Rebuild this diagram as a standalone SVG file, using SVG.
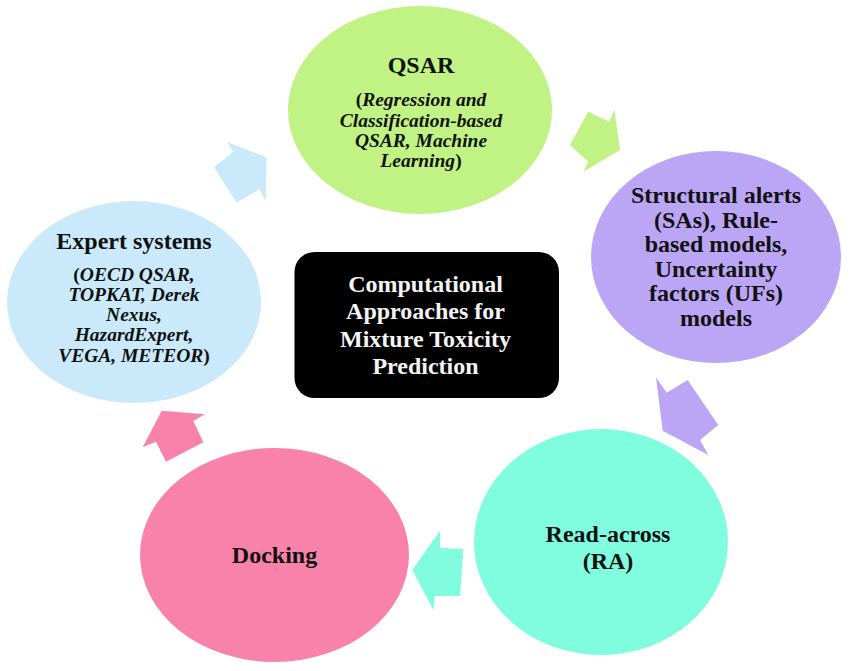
<svg xmlns="http://www.w3.org/2000/svg" width="850" height="671" viewBox="0 0 850 671">
<style>
text{font-family:"Liberation Serif","Times New Roman",serif;font-weight:bold;text-anchor:middle;fill:#111}
.t{font-size:24px}
.s{font-size:19.5px}
.i{font-style:italic}
.w{fill:#f4f4f4}
</style>
<rect x="0" y="0" width="850" height="671" fill="#ffffff"/>
<g id="connectors">
<polygon points="226.7,141.7 233.3,151.7 214,167.3 236.7,202.7 259.3,189.3 265.7,201 266.7,157.3" fill="#caeafb"/>
<polygon points="588.3,111.7 609.3,121.7 614.3,109.3 620,150 583.3,171.7 588.3,161.7 570,145" fill="#c0f284"/>
<polygon points="656,377.3 666.7,392.7 687.7,380 718.3,425 700,440 708.3,455 662.7,430.7" fill="#bba6f5"/>
<polygon points="440,530.7 440,547.7 463.3,549.3 460,596 435,596 433.3,610 412.3,570" fill="#80fcde"/>
<polygon points="161.7,410.7 205,414.3 193.3,421 203.3,442.3 166,461.7 156,441.7 142.7,447.3" fill="#f882aa"/>
</g>
<g id="qsar">
<ellipse cx="420" cy="110" rx="132" ry="104" fill="#c0f284"/>
<text class="t" x="421" y="73">QSAR</text>
<text class="s" x="421" y="106">(<tspan class="i">Regression and</tspan></text>
<text class="s i" x="421" y="126.5">Classification-based</text>
<text class="s i" x="421" y="146.5">QSAR, Machine</text>
<text class="s" x="421" y="166.5"><tspan class="i">Learning</tspan>)</text>
</g>
<g id="structural-alerts">
<ellipse cx="716" cy="257" rx="125" ry="106" fill="#bba6f5"/>
<text class="t" x="716" y="203">Structural alerts</text>
<text class="t" x="716" y="227.5">(SAs), Rule-</text>
<text class="t" x="716" y="252">based models,</text>
<text class="t" x="716" y="276.5">Uncertainty</text>
<text class="t" x="716" y="301">factors (UFs)</text>
<text class="t" x="716" y="325.5">models</text>
</g>
<g id="read-across">
<ellipse cx="601" cy="542" rx="127" ry="113" fill="#80fcde"/>
<text class="t" x="608" y="542">Read-across</text>
<text class="t" x="608" y="568.5">(RA)</text>
</g>
<g id="docking">
<ellipse cx="274.5" cy="555" rx="134.5" ry="107" fill="#f882aa"/>
<text class="t" x="274.5" y="562.5">Docking</text>
</g>
<g id="expert-systems">
<ellipse cx="134" cy="302" rx="127" ry="101" fill="#caeafb"/>
<text class="t" x="134" y="248.5">Expert systems</text>
<text class="s" x="134" y="281">(<tspan class="i">OECD QSAR,</tspan></text>
<text class="s i" x="134" y="301">TOPKAT, Derek</text>
<text class="s i" x="134" y="321">Nexus,</text>
<text class="s i" x="134" y="341">HazardExpert,</text>
<text class="s" x="134" y="361.5"><tspan class="i">VEGA, METEOR</tspan>)</text>
</g>
<g id="center">
<rect x="294.5" y="252" width="264.5" height="146" rx="20" ry="20" fill="#000000"/>
<text class="t w" x="425.5" y="291.5">Computational</text>
<text class="t w" x="425.5" y="319">Approaches for</text>
<text class="t w" x="425.5" y="346.5">Mixture Toxicity</text>
<text class="t w" x="425.5" y="374">Prediction</text>
</g>
</svg>
